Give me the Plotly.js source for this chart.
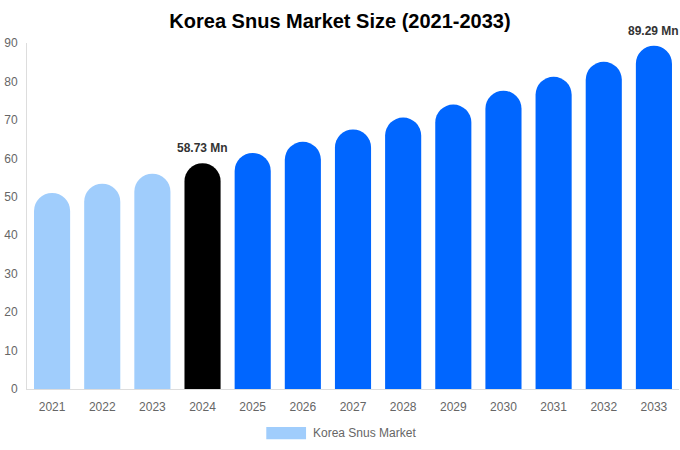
<!DOCTYPE html>
<html>
<head>
<meta charset="utf-8">
<script src="https://cdn.plot.ly/plotly-3.0.1.min.js"></script>
<style>
  html, body { margin: 0; padding: 0; background: #fff; }
  #chart { width: 680px; height: 450px; }
</style>
</head>
<body>
<div id="chart"></div>
<script>
// market size, Mn
const years = ['2021', '2022', '2023', '2024', '2025', '2026', '2027',
               '2028', '2029', '2030', '2031', '2032', '2033'];
const marketSize = [51.0, 53.4, 56.0, 58.73, 61.4, 64.3, 67.5,
                    70.6, 74.0, 77.6, 81.2, 85.1, 89.29];
const yTicks = [0, 10, 20, 30, 40, 50, 60, 70, 80, 90];
const labelled = ['2024', '2033'];

const histColor = '#a0cdfc';
const baseColor = '#000000';
const forecastColor = '#0066ff';

const barColors = years.map(y => {
    if (y < '2024') return histColor;
    if (y === '2024') return baseColor;
    return forecastColor;
});

const data = [{
    type: 'bar',
    x: years,
    y: marketSize,
    name: 'Korea Snus Market',
    marker: { color: barColors, cornerradius: '50%' },
    hoverinfo: 'x+y',
    showlegend: false
}];

// value labels above the highlighted bars
// (x given as category index: numeric-looking strings get read as numbers)
const annotations = labelled.map(y => {
    const i = years.indexOf(y);
    return {
        x: i,
        y: marketSize[i],
        text: marketSize[i].toFixed(2) + ' Mn',
        showarrow: false,
        yanchor: 'bottom',
        yshift: 6,
        font: { family: 'Liberation Sans, Arial, sans-serif', size: 12, color: '#333', weight: 'bold' }
    };
});

// legend entry drawn by hand so the swatch can be wide
annotations.push({
    xref: 'paper', yref: 'paper',
    x: 0.435, y: -0.128,
    xanchor: 'left', yanchor: 'middle',
    text: 'Korea Snus Market',
    showarrow: false,
    font: { family: 'Liberation Sans, Arial, sans-serif', size: 12, color: '#666' }
});

const layout = {
    width: 680,
    height: 450,
    margin: { l: 27, r: 1, t: 43, b: 61 },
    paper_bgcolor: '#fff',
    plot_bgcolor: '#fff',
    font: { family: 'Liberation Sans, Arial, sans-serif', size: 12, color: '#666' },
    title: {
        text: '<b>Korea Snus Market Size (2021-2033)</b>',
        x: 0.5,
        xanchor: 'center',
        y: 0.953,
        yanchor: 'middle',
        font: { size: 20, color: '#000' }
    },
    bargap: 0.28,
    xaxis: {
        type: 'category',
        range: [-0.5, years.length - 0.5],
        showgrid: false,
        showline: true,
        linecolor: '#ddd',
        linewidth: 1,
        ticks: '',
        ticklabelstandoff: 7,
        tickfont: { size: 12, color: '#666' },
        fixedrange: true
    },
    yaxis: {
        range: [0, 90],
        tickvals: yTicks,
        showgrid: false,
        zeroline: false,
        showline: true,
        linecolor: '#ddd',
        linewidth: 1,
        ticks: '',
        ticklabelstandoff: 6,
        tickfont: { size: 12, color: '#666' },
        fixedrange: true
    },
    shapes: [{
        type: 'rect',
        xref: 'paper', yref: 'paper',
        x0: 0.367, x1: 0.428,
        y0: -0.145, y1: -0.110,
        fillcolor: histColor,
        line: { width: 0 }
    }],
    annotations: annotations
};

Plotly.newPlot('chart', data, layout, { displayModeBar: false, staticPlot: true });
</script>
</body>
</html>
